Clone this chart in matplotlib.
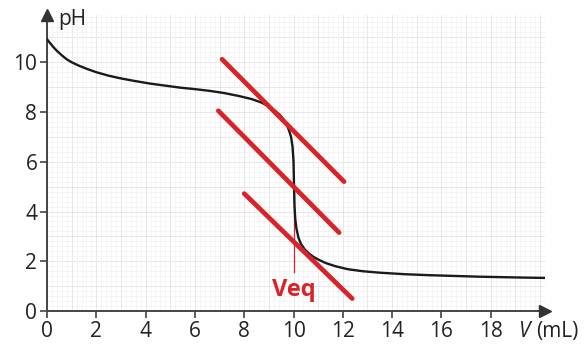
import numpy as np
import matplotlib.pyplot as plt

plt.rcParams['font.family'] = ['Open Sans', 'DejaVu Sans']

# titration curve
V = [0, 0.1, 0.25, 0.4, 0.6, 0.8, 1.0, 1.3, 1.6, 2.0, 2.5, 3.0, 3.6, 4.2,
     4.8, 5.4, 6.0, 6.6, 7.2, 7.8, 8.3, 8.7, 9.0, 9.25, 9.45, 9.6, 9.72,
     9.82, 9.9, 9.96, 10.0, 10.02, 10.04, 10.07, 10.12, 10.2, 10.3, 10.45,
     10.6, 10.8, 11.0, 11.3, 11.7, 12.2, 12.8, 13.5, 14.5, 15.5, 16.5,
     17.5, 18.5, 19.5, 20.2]
pH = [10.93, 10.8, 10.62, 10.46, 10.28, 10.12, 10.0, 9.86, 9.74, 9.6,
      9.46, 9.35, 9.24, 9.14, 9.06, 8.98, 8.92, 8.85, 8.76, 8.64, 8.52,
      8.38, 8.22, 8.05, 7.88, 7.7, 7.5, 7.25, 7.0, 6.6, 6.0, 5.0, 4.2,
      3.7, 3.3, 2.95, 2.7, 2.48, 2.33, 2.18, 2.07, 1.93, 1.8, 1.68, 1.6,
      1.54, 1.48, 1.44, 1.41, 1.38, 1.36, 1.34, 1.33]

# parallel tangents method (start, end)
tangents = [((7.1, 10.12), (12.05, 5.2)),
            ((6.95, 8.05), (11.85, 3.15)),
            ((8.0, 4.72), (12.38, 0.5))]
Veq = 10
pH_eq = 5.0

xticks = [0, 2, 4, 6, 8, 10, 12, 14, 16, 18]
yticks = [0, 2, 4, 6, 8, 10]
xmax, ymax = 20.2, 11.9

red = '#d9232a'
fig = plt.figure(figsize=(5.84, 3.47), dpi=100)
ax = fig.add_axes([47/584, 36/347, (545-47)/584, (311-15)/347])
ax.set_xlim(0, xmax)
ax.set_ylim(0, ymax)

# graph paper
for x in np.arange(0, xmax, 0.2):
    ax.axvline(x, color='#f1f1f1', lw=0.5, zorder=0)
for y in np.arange(0, ymax, 0.2):
    ax.axhline(y, color='#f1f1f1', lw=0.5, zorder=0)
for x in np.arange(0, xmax, 1.0):
    ax.axvline(x, color='#e6e6e6', lw=0.6, zorder=0)
for y in np.arange(0, ymax, 1.0):
    ax.axhline(y, color='#e6e6e6', lw=0.6, zorder=0)

ax.plot(V, pH, color='#1a1a1a', lw=1.7, zorder=3,
        solid_capstyle='round', solid_joinstyle='round')

for (x0, y0), (x1, y1) in tangents:
    ax.plot([x0, x1], [y0, y1], color=red, lw=3.4, solid_capstyle='round', zorder=4)

ax.plot([Veq, Veq], [pH_eq, 1.57], color=red, lw=0.9, zorder=2)
ax.text(Veq, 0.85, 'Veq', color=red, fontsize=17, fontweight='bold',
        ha='center', va='center', zorder=5)

for s in ['top', 'right']:
    ax.spines[s].set_visible(False)
for s in ['left', 'bottom']:
    ax.spines[s].set_color('#444444')
    ax.spines[s].set_linewidth(1.4)
ax.plot(xmax, 0, marker='>', color='#333333', ms=8, clip_on=False, zorder=6)
ax.plot(0, ymax, marker='^', color='#333333', ms=8, clip_on=False, zorder=6)

ax.set_xticks(xticks)
ax.set_yticks(yticks)
ax.tick_params(direction='out', length=5, width=1.2, color='#444444',
               labelsize=15, labelcolor='#222222', pad=2)
ax.get_xticklines()[2*xticks.index(Veq)].set_color(red)

ax.text(0.45, 11.7, 'pH', fontsize=15, color='#222222', va='center', ha='left')
ax.text(19.1, -0.82, 'V', fontsize=15, style='italic', color='#222222',
        va='center', ha='left', clip_on=False)
ax.text(19.85, -0.82, '(mL)', fontsize=15, color='#222222',
        va='center', ha='left', clip_on=False)

fig.savefig('out.png', dpi=100)
